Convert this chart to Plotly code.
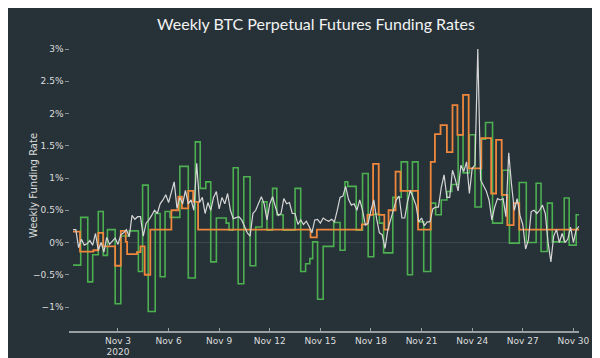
import pandas as pd
import plotly.graph_objects as go

# ---- data (funding rate in %) ----
ORIGIN = pd.Timestamp("2020-11-01 00:00")

green_hours = [-16, -5, 5, 12, 20, 27, 33, 44, 52, 64, 77, 83, 91, 101, 108, 115, 122, 136, 148, 158,
               165, 173, 180, 188, 202, 206, 212, 219, 227, 236, 244, 253, 260, 268, 274, 283, 300, 308, 315, 321,
               325, 332, 340, 355, 364, 371, 375, 387, 396, 404, 412, 420, 426, 439, 451, 460, 467, 475, 483, 493,
               500, 508, 516, 523, 532, 539, 548, 556, 565, 571, 581, 595, 605, 619, 629, 643, 650, 659, 666, 683,
               690, 700, 704]
green_rate = [-0.35, 0.39, -0.61, -0.19, 0.48, -0.2, 0.2, -0.95, 0.1, 0.18, -0.45, 0.89, -1.07, 0.45, -0.53, 0.48, 0.39, 1.18, -0.55, 1.56,
              0.84, 0.94, -0.3, 0.38, 0.3, 0.19, 1.16, -0.64, 1.02, -0.36, 0.24, 0.63, 0.19, 0.84, 0.43, 0.19, 0.84, -0.45, -0.33, -0.25,
              0.01, -0.88, -0.06, 0.31, -0.12, 0.94, 0.87, 0.19, 1.07, -0.22, 0.44, 0.3, -0.16, 0.7, 1.25, -0.5, 1.25, 0.32, -0.45, 0.61,
              0.43, 0.66, 0.79, 0.9, 1.67, 1.08, 1.67, 0.55, 1.6, 1.86, 0.3, 1.12, -0.01, 0.93, 0.0, 0.92, -0.14, 0.61, 0.01, 0.69,
              -0.04, 0.43, 0.43]

orange_hours = [-16, -6, 13, 20, 27, 44, 52, 59, 61, 75, 80, 86, 94, 124, 134, 139, 148, 155, 162, 322,
                331, 395, 403, 411, 419, 427, 433, 443, 450, 475, 493, 499, 507, 516, 524, 531, 539, 547, 565, 579,
                586, 594, 602, 611, 619, 704]
orange_rate = [0.17, -0.14, -0.12, 0.15, -0.06, -0.36, 0.18, 0.01, -0.18, -0.15, -0.06, -0.5, 0.2, 0.5, 0.71, 0.53, 0.8, 0.63, 0.2, 0.08,
               0.2, 0.28, 0.43, 1.22, 0.43, 0.2, 0.5, 1.1, 0.8, 0.2, 1.25, 1.68, 1.82, 1.4, 2.13, 1.67, 2.29, 1.15, 1.62, 0.76,
               1.59, 0.74, 0.27, 0.61, 0.2, 0.2]

white_start = "2020-10-31 08:00"
white_rate = [
    0.2, 0.2, -0.08, 0.05, -0.04, -0.02, 0.03, -0.04, 0.14, -0.12,
    0.0, -0.15, 0.08, -0.03, 0.02, 0.07, -0.03, 0.12, 0.15, 0.2,
    0.09, 0.42, 0.36, 0.4, 0.4, 0.1, 0.3, 0.35, 0.42, 0.5,
    0.45, 0.6, 0.66, 0.74, 0.62, 0.79, 0.94, 0.53, 0.7, 0.6,
    0.81, 0.6, 0.66, 0.5, 1.23, 0.62, 0.7, 0.45, 0.62, 0.5,
    0.7, 0.79, 0.52, 0.7, 0.6, 0.76, 0.5, 0.37, 0.38, 0.4,
    0.35, 0.25, 0.15, 0.1, 0.45, 0.5, 0.6, 0.71, 0.6, 0.35,
    0.6, 0.71, 0.55, 0.42, 0.45, 0.68, 0.6, 0.62, 0.45, 0.45,
    0.28, 0.35, 0.28, 0.33, 0.25, 0.15, 0.35, 0.36, 0.3, 0.38,
    0.35, 0.33, 0.36, 0.32, 0.5, 0.7, 0.72, 0.87, 0.67, 0.58,
    0.6, 0.5, 0.66, 0.5, 0.27, 0.3, 0.5, 0.66, 0.37, 0.15,
    0.12, -0.09, 0.2, 0.35, 0.5, 0.66, 0.72, 0.38, 0.38, 0.63,
    0.81, 0.7, 0.58, 0.32, 0.38, 0.26, 0.32, 0.32, 0.52, 0.55,
    0.55, 0.85, 1.05, 0.7, 0.7, 1.12, 0.98, 0.8, 1.2, 1.1,
    1.25, 0.76, 1.15, 1.2, 3.0, 0.97, 0.88, 0.8, 0.66, 0.35,
    0.55, 0.68, 0.66, 0.68, 0.4, 1.39, 0.9, 0.5, 0.68, 0.42,
    0.28, -0.1, 0.04, 0.48, 0.5, 0.45, 0.5, 0.58, 0.45, 0.0,
    -0.3, 0.1, 0.2, 0.0, 0.14, 0.0, 0.05, 0.24, 0.0, 0.2,
    0.25,
]

y_ticks = [-1, -0.5, 0, 0.5, 1, 1.5, 2, 2.5, 3]
y_tick_labels = ["\u22121%", "\u22120.5%", "0%", "0.5%", "1%", "1.5%", "2%", "2.5%", "3%"]
title_text = "Weekly BTC Perpetual Futures Funding Rates"
y_title = "Weekly Funding Rate"

# ---- build ----
green_t = ORIGIN + pd.to_timedelta(green_hours, unit="h")
orange_t = ORIGIN + pd.to_timedelta(orange_hours, unit="h")
white_t = pd.date_range(white_start, periods=len(white_rate), freq="4h")

BG = "#263238"
fig = go.Figure()
fig.add_trace(go.Scatter(x=green_t, y=green_rate, mode="lines", line_shape="hv",
                         line=dict(color="#4caf50", width=1.6), showlegend=False))
fig.add_trace(go.Scatter(x=orange_t, y=orange_rate, mode="lines", line_shape="hv",
                         line=dict(color="#ee873c", width=1.8), showlegend=False))
fig.add_trace(go.Scatter(x=white_t, y=white_rate, mode="lines",
                         line=dict(color="#d6d6d6", width=1.2), showlegend=False))

# the page puts the figure 8px in from the top-left corner
W, H = 592, 350
L, R, T, B = 65, 21, 32, 27
PW = W - L - R

fig.add_annotation(text=y_title, xref="paper", yref="paper",
                   x=(25.5 - L) / PW, y=0.5, xanchor="center", yanchor="middle",
                   textangle=-90, showarrow=False,
                   font=dict(family="DejaVu Sans", size=10, color="#dddddd"))

fig.update_layout(
    width=W, height=H,
    margin=dict(l=L, r=R, t=T, b=B, autoexpand=False),
    paper_bgcolor=BG, plot_bgcolor=BG,
    title=dict(text=title_text, x=308 / W, xanchor="center", xref="container",
               y=1 - 16 / H, yanchor="middle", yref="container",
               font=dict(family="Lato", size=16, color="#f2f2f2")),
    font=dict(family="DejaVu Sans", size=9, color="#dddddd"),
)
fig.update_xaxes(
    type="date", showgrid=False, zeroline=False, automargin=False,
    showline=True, linecolor="#9a9fa3", linewidth=1.5,
    ticks="inside", ticklen=3, tickcolor="#9a9fa3",
    tick0="2020-11-03", dtick=3 * 86400000,
    tickfont=dict(family="DejaVu Sans", size=9, color="#dddddd"),
)
fig.update_yaxes(
    range=[-1.372, 3.14], showgrid=False, automargin=False,
    zeroline=True, zerolinecolor="#3b4850", zerolinewidth=1,
    showline=True, linecolor=BG, linewidth=3.5,
    ticks="outside", ticklen=4, tickcolor="#8a9095",
    tickvals=y_ticks, ticktext=y_tick_labels,
    tickfont=dict(family="DejaVu Sans", size=9, color="#dddddd"),
)

fig.write_html("out.html")
